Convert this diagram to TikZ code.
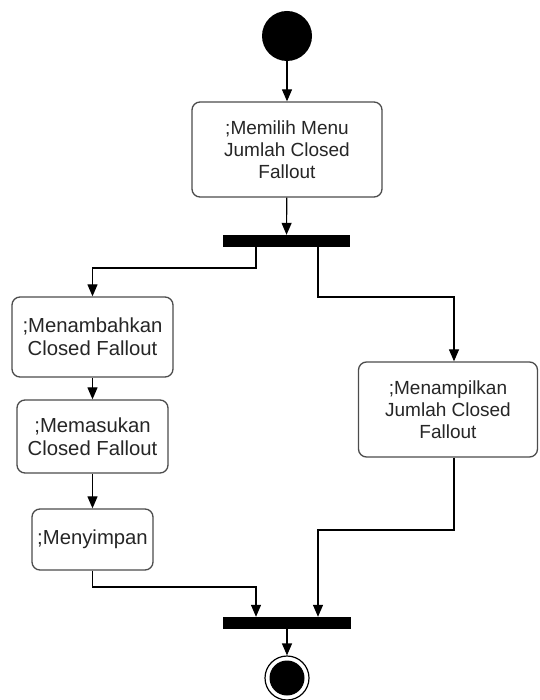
\documentclass[tikz,border=0pt]{standalone}
\usepackage{fontspec}
\setmainfont{Liberation Sans}
\usetikzlibrary{arrows.meta}
\begin{document}
\begin{tikzpicture}[x=1pt,y=-1pt,
  act/.style={draw=black!70, line width=1.3pt, rounded corners=8pt, fill=white,
    align=center, text=black!85, inner sep=0pt,
    font=\fontsize{19}{22}\selectfont},
  bigact/.style={act, font=\fontsize{20.3}{23}\selectfont},
  bar/.style={fill=black, draw=none, minimum height=12pt, inner sep=0pt},
  arr/.style={draw=black, line width=1.2pt, -{Triangle[width=10pt,length=12pt]}}]
\useasboundingbox (0,0) rectangle (539,700);
% initial and final states
\node[circle, fill=black, minimum size=50pt, inner sep=0pt] (start) at (287,36) {};
\node[circle, draw=black, line width=1.2pt, minimum size=44pt, inner sep=0pt] (stop) at (287,678) {};
\fill[black] (stop.center) circle (17.5pt);
% actions
\node[act, minimum width=190pt, minimum height=95pt] (b1) at (287,149.5) {;Memilih Menu\\Jumlah Closed\\Fallout};
\node[bigact, minimum width=161pt, minimum height=80pt] (b2) at (92.5,337) {;Menambahkan\\Closed Fallout};
\node[bigact, minimum width=151pt, minimum height=73pt] (b3) at (92.5,436.5) {;Memasukan\\Closed Fallout};
\node[bigact, minimum width=121pt, minimum height=61pt] (b4) at (92.5,539.5) {;Menyimpan};
\node[act, minimum width=179pt, minimum height=95pt] (b5) at (448,409.5) {;Menampilkan\\Jumlah Closed\\Fallout};
% fork and join bars
\node[bar, minimum width=127pt] (fork) at (286.5,241) {};
\node[bar, minimum width=128pt] (join) at (287,623) {};
% routing points
\coordinate (fl) at (256,268);
\coordinate (fr) at (318,297);
\coordinate (jl) at (256,587);
\coordinate (jr) at (318,530);
% flows
\draw[arr] (start) -- (b1);
\draw[arr] (b1) -- (fork);
\draw[arr] (fl |- fork.south) -- (fl) -| (b2.north);
\draw[arr] (b2) -- (b3);
\draw[arr] (b3) -- (b4);
\draw[arr] (b4.south) |- (jl) -- (jl |- join.north);
\draw[arr] (fr |- fork.south) -- (fr) -| ([xshift=6pt]b5.north);
\draw[arr] ([xshift=6pt]b5.south) |- (jr) -- (jr |- join.north);
\draw[arr] (join) -- (stop);
\end{tikzpicture}
\end{document}
